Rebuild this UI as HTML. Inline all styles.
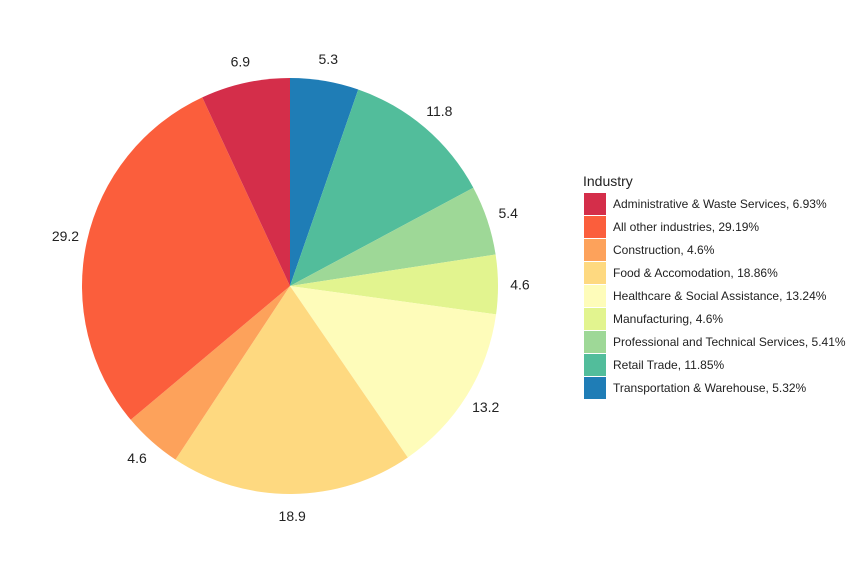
<!DOCTYPE html>
<html><head><meta charset="utf-8"><style>
body{margin:0;background:#fff;font-family:"Liberation Sans",Arial,sans-serif}
svg{display:block}
</style></head><body>
<svg id="chart" width="858" height="573">
<g id="slices"></g>
<g id="labels"></g>
<g id="legend">
<text x="583" y="186" font-size="14" fill="#222">Industry</text>
</g>
</svg>
<script>
const categories=["Administrative & Waste Services","All other industries","Construction","Food & Accomodation","Healthcare & Social Assistance","Manufacturing","Professional and Technical Services","Retail Trade","Transportation & Warehouse"];
const values=[6.93,29.19,4.6,18.86,13.24,4.6,5.41,11.85,5.32];
const legendLabels=["Administrative & Waste Services, 6.93%","All other industries, 29.19%","Construction, 4.6%","Food & Accomodation, 18.86%","Healthcare & Social Assistance, 13.24%","Manufacturing, 4.6%","Professional and Technical Services, 5.41%","Retail Trade, 11.85%","Transportation & Warehouse, 5.32%"];
const colors=["#D53E4F","#F46D43","#FDAE61","#FEE08B","#FFFFBF","#E6F598","#ABDDA4","#66C2A5","#3288BD"];
const fills=["#D42E4A","#FB5E3C","#FDA25B","#FED980","#FEFCBA","#E2F48F","#9ED897","#52BD9B","#1F7DB6"];
const NS="http://www.w3.org/2000/svg";
const cx=290,cy=286,r=208,lr=230;
const total=values.reduce((a,b)=>a+b,0);
function pt(frac,rad){const a=frac*2*Math.PI;return [cx+rad*Math.sin(a),cy-rad*Math.cos(a)];}
const sl=document.getElementById('slices'),lb=document.getElementById('labels'),lg=document.getElementById('legend');
let cum=0;
for(let k=values.length-1;k>=0;k--){
  const f0=cum/total,f1=(cum+values[k])/total;cum+=values[k];
  const [x0,y0]=pt(f0,r),[x1,y1]=pt(f1,r);
  const p=document.createElementNS(NS,'path');
  p.setAttribute('d',`M${cx},${cy}L${x0},${y0}A${r},${r} 0 ${f1-f0>0.5?1:0} 1 ${x1},${y1}Z`);
  p.setAttribute('fill',fills[k]);
  
  
  sl.appendChild(p);
  const [lx,ly]=pt((f0+f1)/2,lr);
  const t=document.createElementNS(NS,'text');
  t.setAttribute('x',lx);t.setAttribute('y',ly+5);t.setAttribute('text-anchor','middle');
  t.setAttribute('font-size','14');t.setAttribute('fill','#222');
  t.textContent=values[k].toFixed(1);
  
  
  lb.appendChild(t);
}
categories.forEach((c,i)=>{
  const y=193+i*23;
  const rc=document.createElementNS(NS,'rect');
  rc.setAttribute('x',584);rc.setAttribute('y',y);rc.setAttribute('width',22);rc.setAttribute('height',22);rc.setAttribute('fill',fills[i]);
  
  
  lg.appendChild(rc);
  const t=document.createElementNS(NS,'text');
  t.setAttribute('x',613);t.setAttribute('y',y+15);t.setAttribute('font-size','12');t.setAttribute('fill','#222');
  t.textContent=legendLabels[i];
  
  
  lg.appendChild(t);
});
</script>
</body></html>
